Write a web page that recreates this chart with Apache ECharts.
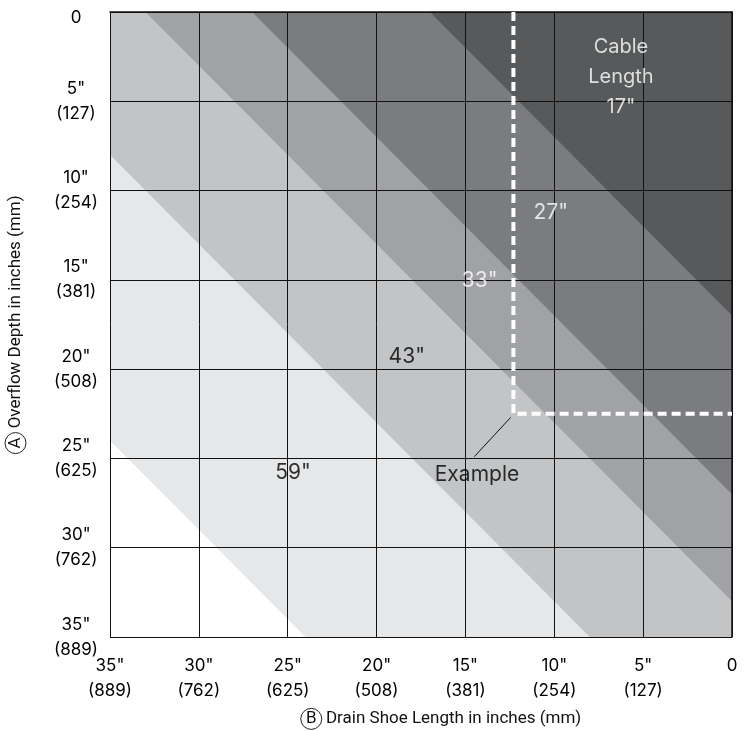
<!DOCTYPE html>
<html>
<head>
<meta charset="utf-8">
<script src="https://cdn.jsdelivr.net/npm/echarts@6/dist/echarts.min.js"></script>
<style>
  html, body { margin: 0; padding: 0; background: #fff; }
  #chart { width: 745px; height: 731px; }
</style>
</head>
<body>
<div id="chart"></div>
<script>
  // axis ticks (inches) and their mm labels
  const tickInches = [0, 5, 10, 15, 20, 25, 30, 35]
  const tickMm = ['', '127', '254', '381', '508', '625', '762', '889']

  // cable length bands: region where shoe length + overflow depth < limit
  const bandLimits = [59, 43, 33, 27, 17]
  const bandColors = ['#e6e7e8', '#c3c4c6', '#a1a2a5', '#7b7c7f', '#58595b']

  // labels inside the chart
  const labelText = ['Cable\nLength\n17"', '27"', '33"', '43"', '59"', 'Example']
  const labelX = [6.25, 10.2, 14.2, 18.3, 24.7, 14.35]
  const labelY = [3.65, 11.25, 15.05, 19.3, 25.8, 25.9]
  const labelColor = ['#fff', '#fff', '#fff', '#000', '#000', '#000']

  // worked example: shoe length / overflow depth
  const exampleX = 12.3
  const exampleY = 22.5
  const leaderLine = [[12.45, 22.7], [14.5, 24.9]]

  const AXMAX = 35
  const font = 'Inter, "Liberation Sans", sans-serif'

  function bandPolygon (c) {
    if (c <= AXMAX) return [[0, 0], [c, 0], [0, c]]
    return [[0, 0], [AXMAX, 0], [AXMAX, c - AXMAX], [c - AXMAX, AXMAX], [0, AXMAX]]
  }

  function tickLabel (v, first) {
    const i = tickInches.indexOf(v)
    if (v === 0) return first
    return v + '"\n(' + tickMm[i] + ')'
  }

  const circleStyle = {
    borderColor: '#222', borderWidth: 1, borderRadius: 11, width: 21, height: 21,
    lineHeight: 21, align: 'center', fontSize: 17, fontFamily: 'Roboto, sans-serif', color: '#111'
  }

  const chart = echarts.init(document.getElementById('chart'))
  chart.setOption({
    animation: false,
    textStyle: { fontFamily: font },
    grid: { left: 110, right: 13, top: 12, bottom: 94, containLabel: false, outerBoundsMode: 'none' },
    xAxis: {
      type: 'value', min: 0, max: AXMAX, interval: 5, inverse: true, z: 3,
      axisLine: { lineStyle: { color: '#111', width: 1.5 } },
      axisTick: { show: false },
      splitLine: { lineStyle: { color: '#111', width: 1 } },
      axisLabel: {
        color: '#000', fontSize: 17, lineHeight: 25, margin: 16,
        formatter: v => tickLabel(v, '0')
      },
      name: '{c|B} Drain Shoe Length in inches (mm)',
      nameLocation: 'middle', nameGap: 70,
      nameTextStyle: {
        color: '#111', fontSize: 17, fontFamily: 'Roboto, sans-serif',
        padding: [0, 0, 0, 40],
        rich: { c: circleStyle }
      }
    },
    yAxis: {
      type: 'value', min: 0, max: AXMAX, interval: 5, inverse: true, z: 3,
      axisLine: { lineStyle: { color: '#111', width: 1.5 } },
      axisTick: { show: false },
      splitLine: { lineStyle: { color: '#111', width: 1 } },
      axisLabel: {
        color: '#000', fontSize: 17, lineHeight: 25, margin: 34, align: 'center',
        formatter: v => tickLabel(v, '{z|0}'),
        rich: { z: { fontSize: 17, padding: [12, 0, 0, 0] } }
      },
      name: '{c|A} Overflow Depth in inches (mm)',
      nameLocation: 'middle', nameGap: 84, nameRotate: 90,
      nameTextStyle: {
        color: '#111', fontSize: 17, fontFamily: 'Roboto, sans-serif',
        rich: { c: circleStyle }
      }
    },
    series: [
      {
        type: 'custom',
        z: 1,
        data: bandLimits.map((c, i) => [c, i]),
        renderItem: (params, api) => {
          const c = api.value(0)
          const pts = bandPolygon(c).map(p => api.coord(p))
          return {
            type: 'polygon',
            shape: { points: pts },
            style: { fill: bandColors[api.value(1)], stroke: null }
          }
        }
      },
      {
        type: 'line',
        z: 4,
        symbol: 'none',
        data: [[exampleX, 0], [exampleX, exampleY], [0, exampleY]],
        lineStyle: { color: '#fff', width: 4, type: [9, 5] }
      },
      {
        type: 'line',
        z: 4,
        symbol: 'none',
        data: leaderLine,
        lineStyle: { color: '#111', width: 1 }
      },
      {
        type: 'scatter',
        z: 5,
        symbolSize: 1,
        itemStyle: { color: 'transparent' },
        data: labelText.map((t, i) => ({
          value: [labelX[i], labelY[i]],
          label: {
            show: true, position: 'inside', formatter: t,
            color: labelColor[i], fontSize: i === 0 ? 20 : 21, lineHeight: 30
          }
        }))
      }
    ]
  })
</script>
</body>
</html>
